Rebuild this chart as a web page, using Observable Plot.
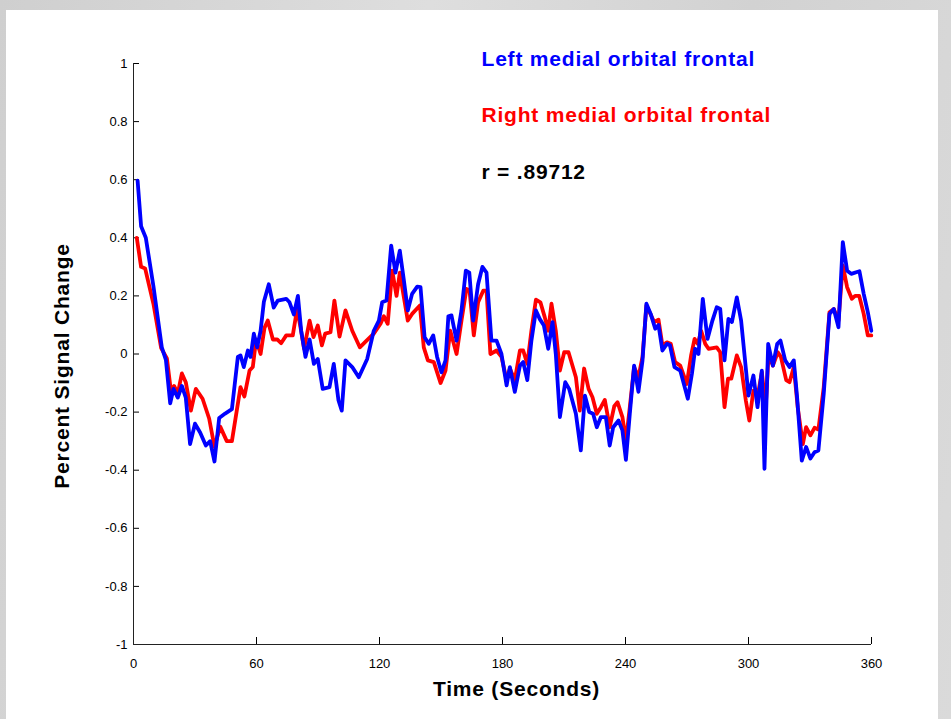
<!DOCTYPE html>
<html><head><meta charset="utf-8">
<script src="https://cdn.jsdelivr.net/npm/d3@7"></script>
<script src="https://cdn.jsdelivr.net/npm/@observablehq/plot@0.6"></script>
<style>
html,body{margin:0;padding:0;}
body{width:951px;height:719px;background:linear-gradient(100deg,#cfcfcf,#dedede 40%,#d2d2d2 70%,#dadada);position:relative;overflow:hidden;font-family:"Liberation Sans",Arial,sans-serif;}
#panel{position:absolute;left:6px;top:10px;width:932px;height:709px;background:#fff;}
#chart{position:absolute;left:0;top:0;}
</style></head><body>
<div id="panel"></div>
<div id="chart"></div>
<script>
// Left medial orbital frontal (blue)
const leftTime = [2,3.7,6,9.8,13.8,15.8,17.9,19.5,21.6,23.6,25.5,27.6,30,32.5,35.3,37.4,39.5,41.8,44.7,48,50.9,52.2,53.8,55.8,57.1,58.7,60.3,62,63.6,66,68.4,70.4,74.5,76.1,78.2,80.2,81.8,83.9,85.9,88,89.9,92.3,95.6,97.7,100,101.6,103.4,106.7,109.9,114,117.2,119.7,121.3,123.4,125.7,127.8,129.9,131.9,133.8,135.9,138.4,140,142,144,146.2,148.1,150.2,152.2,153.6,155.1,157.6,160,162.1,163.8,165.7,168.1,170.2,172.2,174.6,177.1,179.5,182,183.6,186,188.5,190.1,192.1,194.1,196.3,198.2,200.2,202.3,204.4,206,208,210.6,212.5,215.8,218.2,220.2,222.3,224.2,226,228,230.4,232.3,234,236.6,238.5,240.2,242.1,244.2,246.3,248.3,250.2,252.3,254.5,256.1,258,260.2,261.7,263.9,266.7,270.4,272.4,274,275.6,277.7,280,282.4,284.5,286.2,288.3,290.2,291.9,294.3,296.4,300,302.4,304.4,306.5,307.8,309.6,311.9,314,315.6,317.9,320,322.1,323.7,326,328.1,330.2,332.2,334.1,336.7,339.5,341.6,343.9,346,348.1,350.1,354.1,356.2,358.2,359.9];
const leftValues = [0.597,0.44,0.40,0.23,0.023,-0.02,-0.17,-0.12,-0.15,-0.11,-0.15,-0.31,-0.24,-0.27,-0.315,-0.30,-0.37,-0.22,-0.205,-0.19,-0.01,-0.005,-0.045,0.012,-0.01,0.07,0.023,0.08,0.18,0.24,0.16,0.184,0.19,0.178,0.136,0.20,0.08,-0.01,0.05,-0.034,-0.017,-0.12,-0.114,-0.034,-0.16,-0.195,-0.022,-0.045,-0.08,-0.017,0.08,0.115,0.178,0.184,0.373,0.28,0.356,0.253,0.15,0.207,0.232,0.23,0.058,0.035,0.064,-0.01,-0.063,-0.022,0.13,0.133,0.046,0.15,0.287,0.28,0.115,0.24,0.30,0.28,0.046,0.046,0.0,-0.108,-0.045,-0.13,-0.04,-0.028,-0.09,0.046,0.15,0.12,0.098,0.018,0.11,0.0,-0.217,-0.097,-0.12,-0.206,-0.332,-0.143,-0.20,-0.206,-0.252,-0.217,-0.217,-0.315,-0.252,-0.229,-0.263,-0.364,-0.206,-0.04,-0.13,-0.022,0.173,0.138,0.087,0.10,0.012,0.035,0.03,-0.045,-0.057,-0.154,-0.068,0.018,0.0,0.19,0.052,0.115,0.161,0.155,-0.022,0.121,0.11,0.195,0.115,-0.143,-0.074,-0.183,-0.057,-0.395,0.035,-0.04,0.035,0.046,-0.022,-0.045,-0.022,-0.149,-0.367,-0.32,-0.36,-0.338,-0.332,-0.137,0.138,0.155,0.092,0.385,0.287,0.276,0.285,0.207,0.144,0.08];

// Right medial orbital frontal (red)
const rightTime = [1.6,3.7,5.7,9.8,13.5,16.3,18.2,19.8,21.6,23.6,25.5,28,30.4,33.7,36.9,39.5,42.3,45.5,48,52.2,54.1,56.6,58.2,59.8,62,63.9,65.5,68,70.1,72,74.5,77.7,79.8,81.5,83.2,85.9,87.8,89.9,91.9,93.5,96.1,98,100.5,103.4,106.7,110.4,113.7,117.2,120.5,122.1,124,126.2,128.3,129.9,131.9,133.8,135.9,139.7,141.6,143.6,146.5,149.8,152.2,154.5,157.6,160,162.4,163.9,166,168.1,170.6,172.2,174.1,177.1,179.5,182,183.6,186,188.5,190.1,192.1,194.1,196.3,198.5,200.6,202.3,203.9,206,208,210.1,212.2,215.8,217.7,219.8,222,223.9,226,228,229.9,232.3,234.5,236.1,238.5,240.2,242.1,244.2,246.3,248.3,250.2,254,256.1,258,260.2,262.1,264.2,266.7,269.9,272,273.7,275.3,276.9,278.9,280.5,284.5,286.2,288.3,290,291.6,294.3,296.4,298.7,300.4,302.4,304.5,306.5,308.4,309.8,311.9,314.3,315.8,318.4,320,322.1,324,326.5,328.1,330.2,332.2,334.1,336.7,339.5,341.6,343.9,346,348.1,350.4,352,354,356.2,358.2,359.9];
const rightValues = [0.40,0.30,0.294,0.17,0.02,-0.015,-0.125,-0.11,-0.136,-0.067,-0.097,-0.195,-0.12,-0.154,-0.222,-0.32,-0.25,-0.30,-0.30,-0.114,-0.146,-0.057,-0.045,0.05,0.0,0.09,0.115,0.05,0.05,0.037,0.064,0.064,0.155,0.09,0.018,0.115,0.058,0.098,0.03,0.07,0.075,0.184,0.06,0.15,0.08,0.023,0.046,0.07,0.104,0.13,0.104,0.287,0.20,0.28,0.195,0.115,0.138,0.167,0.023,-0.022,-0.028,-0.10,-0.057,0.08,0.0,0.115,0.224,0.22,0.064,0.178,0.218,0.218,0.0,0.012,-0.01,-0.09,-0.05,-0.09,0.012,0.012,-0.034,0.08,0.187,0.178,0.127,0.08,0.173,0.08,-0.057,0.006,0.006,-0.08,-0.195,-0.05,-0.12,-0.149,-0.206,-0.183,-0.158,-0.252,-0.18,-0.166,-0.217,-0.30,-0.183,-0.045,-0.08,-0.01,0.167,0.11,0.118,0.03,0.04,0.035,-0.028,-0.04,-0.103,-0.005,0.052,0.035,0.08,0.035,0.018,0.023,0.006,-0.183,-0.085,-0.085,-0.005,-0.045,-0.16,-0.229,-0.126,-0.143,-0.063,-0.183,0.0,-0.04,0.006,-0.01,-0.09,-0.097,-0.045,-0.183,-0.31,-0.252,-0.28,-0.254,-0.26,-0.114,0.144,0.155,0.115,0.305,0.23,0.19,0.20,0.20,0.138,0.064,0.064];

const xTicks = [0,60,120,180,240,300,360];
const yTicks = [-1,-0.8,-0.6,-0.4,-0.2,0,0.2,0.4,0.6,0.8,1];
const seriesNames = ["Left medial orbital frontal","Right medial orbital frontal"];
const seriesColors = ["#0000ff","#ff0000"];
const corrLabel = "r = .89712";
const xTitle = "Time (Seconds)";
const yTitle = "Percent Signal Change";

const left = leftTime.map((t,i)=>({t, v:leftValues[i]}));
const right = rightTime.map((t,i)=>({t, v:rightValues[i]}));

const bigFont = {fontSize:21, fontWeight:"bold", fontFamily:"'Liberation Sans', Arial, sans-serif"};

const chart = Plot.plot({
  width: 951,
  height: 719,
  marginLeft: 133,
  marginRight: 80,
  marginTop: 63,
  marginBottom: 75,
  style: {background:"transparent", fontFamily:"'Liberation Sans', Arial, sans-serif", color:"#000"},
  x: {domain:[0,360], ticks: xTicks},
  y: {domain:[-1,1], ticks: yTicks},
  marks: [
    Plot.axisX(xTicks, {tickSize:-7, tickPadding:21, tickFormat:d=>String(d), label:null}),
    Plot.axisY(yTicks, {tickSize:-6, tickPadding:12, tickFormat:d=>String(d), label:null}),
    Plot.ruleX([0], {stroke:"#222", strokeWidth:1}),
    Plot.ruleY([-1], {stroke:"#222", strokeWidth:1}),
    Plot.line(right, {x:"t", y:"v", stroke:seriesColors[1], strokeWidth:3.8, strokeLinejoin:"round"}),
    Plot.line(left, {x:"t", y:"v", stroke:seriesColors[0], strokeWidth:3.8, strokeLinejoin:"round"}),
    Plot.text([seriesNames[0]], {text:d=>d, frameAnchor:"top-left", dx:348, dy:-12, fill:seriesColors[0], textAnchor:"start", ...bigFont}),
    Plot.text([seriesNames[1]], {text:d=>d, frameAnchor:"top-left", dx:348, dy:44, fill:seriesColors[1], textAnchor:"start", ...bigFont}),
    Plot.text([corrLabel], {text:d=>d, frameAnchor:"top-left", dx:348, dy:101, fill:"#000", textAnchor:"start", ...bigFont}),
    Plot.text([xTitle], {text:d=>d, frameAnchor:"bottom", dx:14, dy:51, fill:"#000", textAnchor:"middle", ...bigFont}),
    Plot.text([yTitle], {text:d=>d, frameAnchor:"left", dx:-71, dy:12, rotate:-90, fill:"#000", textAnchor:"middle", ...bigFont})
  ]
});
const svg = d3.select(chart.tagName.toLowerCase()==="svg" ? chart : chart.querySelector("svg"));
svg.selectAll("g[aria-label='x-axis tick label'], g[aria-label='y-axis tick label']").attr("font-size", 13).style("font-size","13px");
svg.selectAll("g[font-size='21']").style("letter-spacing","0.8px");
document.getElementById("chart").appendChild(chart);
</script>
</body></html>
